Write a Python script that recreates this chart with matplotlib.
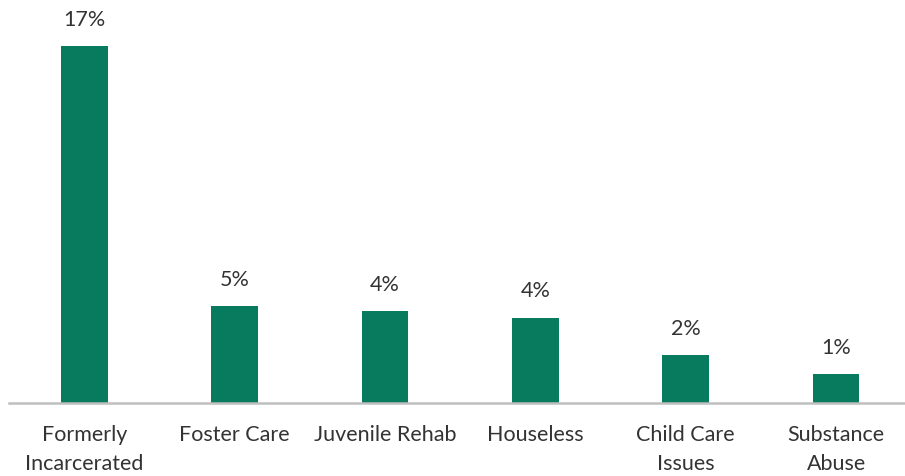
import matplotlib.pyplot as plt

categories = ["Formerly\nIncarcerated", "Foster Care", "Juvenile Rehab",
              "Houseless", "Child Care\nIssues", "Substance\nAbuse"]
shares = [17.0, 4.62, 4.37, 4.06, 2.29, 1.37]

bar_color = "#087A5E"
text_color = "#333333"

plt.rcParams["font.family"] = ["Lato", "DejaVu Sans"]

fig = plt.figure(figsize=(9.05, 4.76), dpi=100)
# plot area runs slightly past the right edge of the canvas
ax = fig.add_axes([9.3 / 905, 73 / 476, 902 / 905, 357 / 476])

x = range(len(categories))
bars = ax.bar(x, shares, width=0.31, color=bar_color)

for rect, v in zip(bars, shares):
    ax.annotate(f"{v:.0f}%", (rect.get_x() + rect.get_width() / 2, v),
                xytext=(0, 19), textcoords="offset points",
                ha="center", va="center", fontsize=15.5, color=text_color)

ax.set_xlim(-0.5, len(categories) - 0.5)
ax.set_ylim(0, 17)
ax.set_xticks(list(x))
ax.set_xticklabels(categories, fontsize=15.5, color=text_color, linespacing=1.55)
ax.tick_params(axis="x", length=0, pad=16)
ax.set_yticks([])

for side in ("top", "right", "left"):
    ax.spines[side].set_visible(False)
ax.spines["bottom"].set_color("#BFBFBF")
ax.spines["bottom"].set_linewidth(1.8)

fig.savefig("out.png", dpi=100)
